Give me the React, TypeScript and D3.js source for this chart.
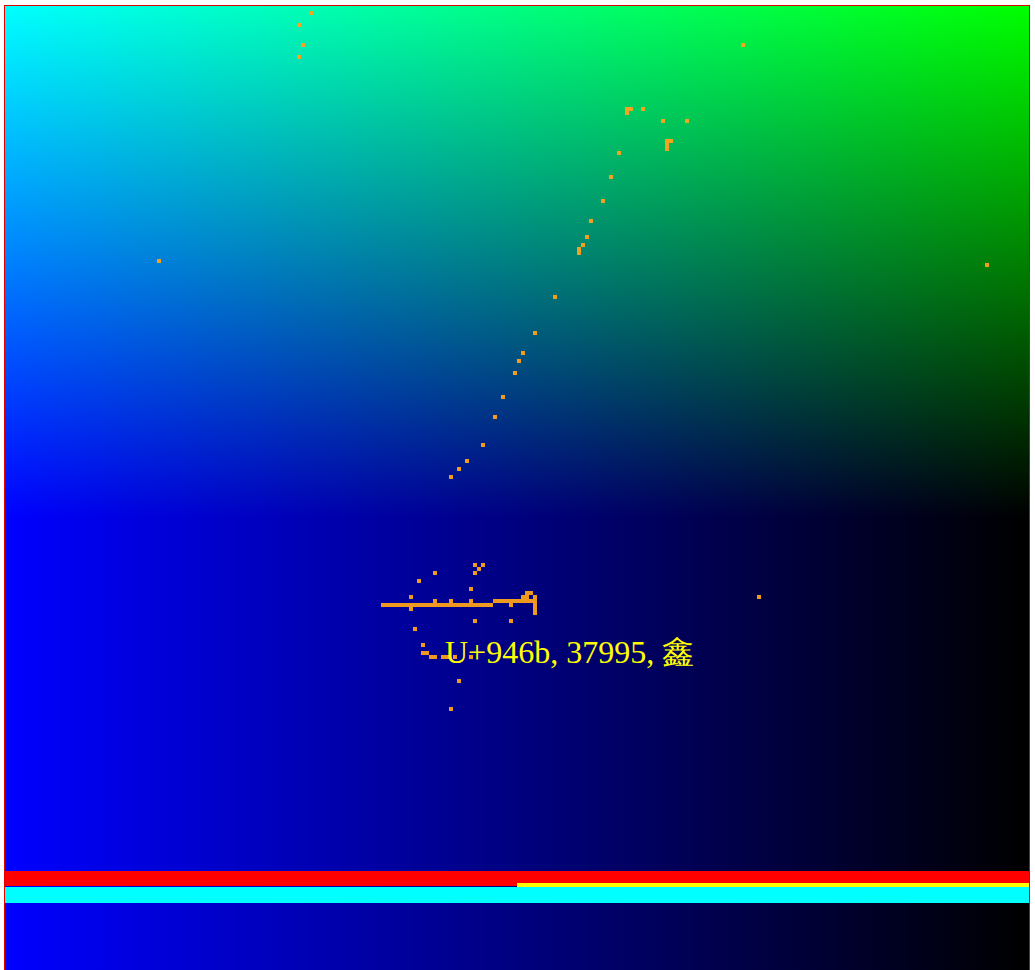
import React, { useEffect, useRef } from 'react';
import * as d3 from 'd3';

// grid cells [col, row] on a 256 x 256 board
const cells: [number, number][] = [
  [76, 2], [73, 5], [74, 10], [73, 13], [184, 10],
  [155, 26], [156, 26], [155, 27], [159, 26], [164, 29], [170, 29],
  [165, 34], [166, 34], [165, 35], [165, 36],
  [153, 37], [151, 43], [149, 49], [146, 54], [145, 58], [144, 60], [143, 61], [143, 62],
  [137, 73], [132, 82], [129, 87], [128, 89], [127, 92], [124, 98], [122, 103],
  [119, 110], [115, 114], [113, 116], [111, 118],
  [38, 64], [245, 65], [188, 148],
  [117, 140], [119, 140], [118, 141], [117, 142],
  [107, 142], [103, 144], [116, 146], [101, 148],
  [107, 149], [111, 149], [116, 149], [101, 151], [126, 150],
  [130, 147], [131, 147], [129, 148], [130, 148], [132, 148],
  [129, 149], [130, 149], [131, 149], [132, 149],
  [132, 150], [132, 151], [132, 152],
  [117, 154], [126, 154], [102, 156], [104, 160],
  [104, 162], [105, 162], [106, 163], [107, 163], [109, 163], [110, 163], [112, 163], [116, 163],
  [113, 169], [111, 176],
];

// horizontal runs [row, fromCol, toCol]
const runs: [number, number, number][] = [
  [150, 94, 121],
  [149, 122, 128],
];

// bars [row, height in rows, fromCol, toCol, colour]
const bands: [number, number, number, number, string][] = [
  [217, 3.75, 0, 256, '#ff0000'],
  [221, 4, 0, 256, '#00ffff'],
  [220, 1, 128, 256, '#ffff00'],
];

const codePoint = 0x946b;
const label = `U+${codePoint.toString(16)}, ${codePoint}, ${String.fromCodePoint(codePoint)}`;

export default function App() {
  const svgRef = useRef<SVGSVGElement>(null);
  const width = 1035;
  const height = 970;

  useEffect(() => {
    if (!svgRef.current) return;
    const svg = d3.select(svgRef.current);
    svg.selectAll('*').remove();

    const x = d3.scaleLinear().domain([0, 256]).range([5, 1029]);
    const y = d3.scaleLinear().domain([0, 256]).range([3, 1027]);
    const cw = x(1) - x(0);
    const ch = y(1) - y(0);

    const defs = svg.append('defs');
    const gb = defs.append('linearGradient').attr('id', 'gb').attr('x1', 0).attr('x2', 1).attr('y1', 0).attr('y2', 0);
    gb.append('stop').attr('offset', 0).attr('stop-color', '#0000ff');
    gb.append('stop').attr('offset', 1).attr('stop-color', '#000000');
    const gg = defs.append('linearGradient').attr('id', 'gg').attr('x1', 0).attr('x2', 0).attr('y1', 0).attr('y2', 1);
    gg.append('stop').attr('offset', 0).attr('stop-color', '#00ff00');
    gg.append('stop').attr('offset', 0.5).attr('stop-color', '#000000');
    gg.append('stop').attr('offset', 1).attr('stop-color', '#000000');

    const board = svg.append('g').style('isolation', 'isolate');
    board.append('rect')
      .attr('x', x(0)).attr('y', 6).attr('width', x(256) - x(0)).attr('height', 1024)
      .attr('fill', 'url(#gb)');
    board.append('rect')
      .attr('x', x(0)).attr('y', 6).attr('width', x(256) - x(0)).attr('height', 1024)
      .attr('fill', 'url(#gg)').style('mix-blend-mode', 'screen');

    svg.append('g').selectAll('rect').data(bands).enter().append('rect')
      .attr('x', d => x(d[2])).attr('y', d => y(d[0]))
      .attr('width', d => x(d[3]) - x(d[2])).attr('height', d => d[1] * ch)
      .attr('fill', d => d[4]);

    const dots = svg.append('g').attr('fill', '#ffa31a').attr('fill-opacity', 0.94);
    dots.selectAll('rect.c').data(cells).enter().append('rect').attr('class', 'c')
      .attr('x', d => x(d[0])).attr('y', d => y(d[1])).attr('width', cw).attr('height', ch);
    dots.selectAll('rect.r').data(runs).enter().append('rect').attr('class', 'r')
      .attr('x', d => x(d[1])).attr('y', d => y(d[0]))
      .attr('width', d => x(d[2] + 1) - x(d[1])).attr('height', ch);

    svg.append('text')
      .attr('x', 445).attr('y', 663)
      .attr('fill', '#ffff00').attr('font-family', '"Liberation Serif", "Times New Roman", serif').attr('font-size', '32px')
      .text(label);

    svg.append('rect')
      .attr('x', 4.5).attr('y', 5.5).attr('width', 1025).attr('height', 1030)
      .attr('fill', 'none').attr('stroke', '#e00000').attr('stroke-width', 1);
  }, []);

  return <svg ref={svgRef} width={width} height={height} style={{ position: 'absolute', left: 0, top: 0 }} />;
}
